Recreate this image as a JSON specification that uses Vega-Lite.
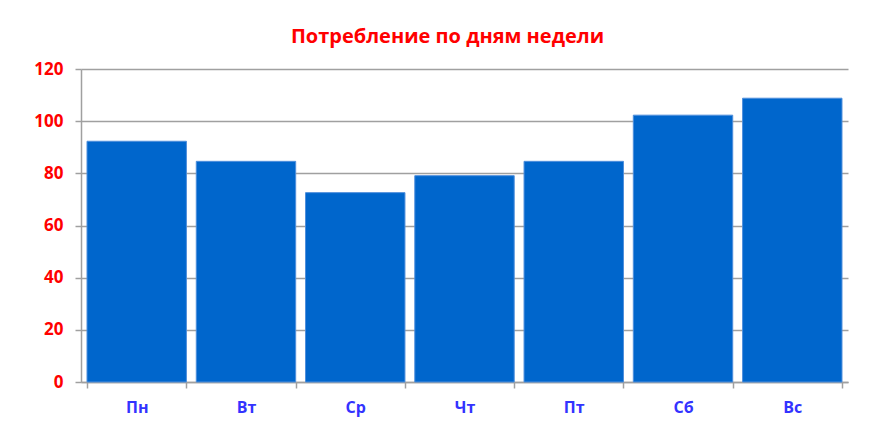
{
  "$schema": "https://vega.github.io/schema/vega-lite/v6.json",
  "width": 767,
  "height": 313,
  "autosize": {"type": "none"},
  "padding": {"left": 81, "top": 69, "right": 27, "bottom": 47},
  "background": "white",
  "title": {
    "text": "Потребление по дням недели",
    "color": "#FF0000",
    "font": "Open Sans",
    "fontSize": 20,
    "fontWeight": "bold",
    "anchor": "middle",
    "dx": -17,
    "offset": 13
  },
  "data": {
    "values": [
      {"day": "Пн", "value": 92.3},
      {"day": "Вт", "value": 84.6},
      {"day": "Ср", "value": 72.6},
      {"day": "Чт", "value": 79.1},
      {"day": "Пт", "value": 84.6},
      {"day": "Сб", "value": 102.3},
      {"day": "Вс", "value": 108.8}
    ]
  },
  "mark": {"type": "bar", "fill": "#0066CC", "stroke": "#4F8FDC", "strokeWidth": 1},
  "encoding": {
    "x": {
      "field": "day",
      "type": "nominal",
      "sort": null,
      "scale": {"paddingInner": 0.09, "paddingOuter": 0.055},
      "axis": {
        "title": null,
        "labelAngle": 0,
        "labelColor": "#3333FF",
        "labelFont": "Open Sans",
        "labelFontSize": 16,
        "labelFontWeight": "bold",
        "labelPadding": 11,
        "tickBand": "extent",
        "tickSize": 6,
        "tickColor": "#A0A0A0",
        "tickWidth": 1.5,
        "domainColor": "#A0A0A0",
        "domainWidth": 1.5,
        "grid": false
      }
    },
    "y": {
      "field": "value",
      "type": "quantitative",
      "scale": {"domain": [0, 120]},
      "axis": {
        "title": null,
        "values": [0, 20, 40, 60, 80, 100, 120],
        "labelColor": "#FF0000",
        "labelFont": "Open Sans",
        "labelFontSize": 17,
        "labelFontWeight": "bold",
        "labelPadding": 12,
        "tickSize": 6,
        "tickColor": "#A0A0A0",
        "tickWidth": 1.5,
        "domainColor": "#A0A0A0",
        "domainWidth": 1.5,
        "grid": true,
        "gridColor": "#A0A0A0",
        "gridWidth": 1.5
      }
    }
  },
  "config": {"view": {"stroke": null}}
}
